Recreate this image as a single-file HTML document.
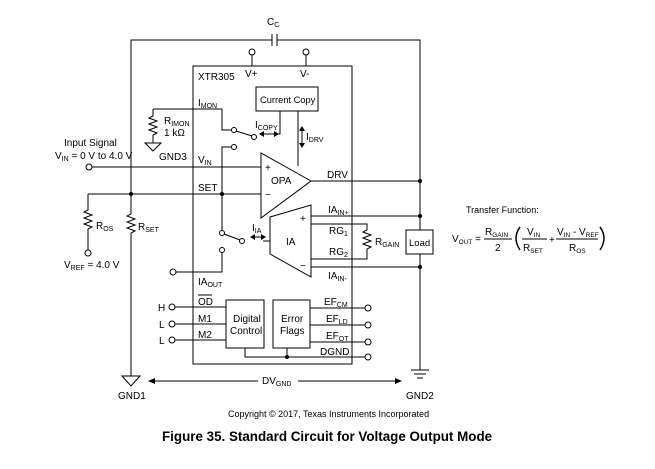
<!DOCTYPE html>
<html><head><meta charset="utf-8"><style>
body{margin:0;background:#fff}
svg{display:block}
text{font-family:"Liberation Sans",sans-serif;font-size:10px;fill:#000}
.s{font-size:7px}
.e{font-size:9px}
.e .s{font-size:6.5px}
</style></head><body>
<svg width="655" height="469" viewBox="0 0 655 469" xmlns="http://www.w3.org/2000/svg">
<g stroke="#000" stroke-width="1" fill="none">
<rect x="193" y="66" width="159" height="298"/>
<polyline points="131,194 131,40 272,40"/>
<line x1="272" y1="34" x2="272" y2="46"/>
<line x1="277" y1="34" x2="277" y2="46"/>
<polyline points="277,40 420,40 420,230"/>
<line x1="420" y1="254" x2="420" y2="370"/>
<line x1="252" y1="55" x2="252" y2="66"/><circle cx="252" cy="52" r="3" fill="#fff"/>
<line x1="306" y1="55" x2="306" y2="66"/><circle cx="306" cy="52" r="3" fill="#fff"/>
<rect x="256" y="87" width="62" height="24"/>
<line x1="298" y1="111" x2="298" y2="166"/>
<polyline points="280,111 280,134 262,134"/>
<polyline points="153,109 222,109 222,130 231,130"/>
<polyline points="153,109 153,116 149,118 157,121 149,124 157,127 149,130 157,133 153,135 153,143"/>
<polygon points="145,143 161,143 153,151"/>
<circle cx="234" cy="130" r="2.5" fill="#fff"/>
<line x1="236" y1="131" x2="252" y2="136"/>
<circle cx="254" cy="137" r="2.5" fill="#fff"/>
<circle cx="234" cy="147" r="2.5" fill="#fff"/>
<polyline points="231,147 222,147 222,230"/>
<line x1="92" y1="167" x2="261" y2="167"/>
<circle cx="89" cy="167" r="3" fill="#fff"/>
<polygon points="261,153 261,218 311,181" fill="#fff"/>
<line x1="311" y1="181" x2="420" y2="181"/>
<line x1="88" y1="194" x2="261" y2="194"/>
<polyline points="88,194 88,210 84,212 92,215 84,218 92,221 84,224 92,227 88,229 88,250"/>
<circle cx="88" cy="253" r="3" fill="#fff"/>
<polyline points="131,194 131,214 127,216 135,219 127,222 135,225 127,228 135,231 131,233 131,376"/>
<polygon points="122,376 140,376 131,386"/>
<circle cx="222" cy="233" r="2.5" fill="#fff"/>
<line x1="224" y1="234" x2="240" y2="240"/>
<circle cx="242" cy="241" r="2.5" fill="#fff"/>
<circle cx="222" cy="250" r="2.5" fill="#fff"/>
<polyline points="222,253 222,272 176,272"/>
<circle cx="173" cy="272" r="3" fill="#fff"/>
<line x1="263" y1="241" x2="270" y2="241"/>
<polygon points="270,217 311,205 311,277 270,254" fill="#fff"/>
<line x1="311" y1="216" x2="420" y2="216"/>
<line x1="311" y1="267" x2="420" y2="267"/>
<polyline points="311,224 367,224 367,230 363,232 371,235 363,238 371,241 363,244 371,247 367,249 367,259 311,259"/>
<rect x="406" y="230" width="27" height="24"/>
<rect x="226" y="300" width="38" height="48"/>
<rect x="273" y="300" width="37" height="48"/>
<line x1="175" y1="307" x2="226" y2="307"/><circle cx="172" cy="307" r="3" fill="#fff"/>
<line x1="175" y1="324" x2="226" y2="324"/><circle cx="172" cy="324" r="3" fill="#fff"/>
<line x1="175" y1="340" x2="226" y2="340"/><circle cx="172" cy="340" r="3" fill="#fff"/>
<line x1="310" y1="308" x2="365" y2="308"/><circle cx="368" cy="308" r="3" fill="#fff"/>
<line x1="310" y1="325" x2="365" y2="325"/><circle cx="368" cy="325" r="3" fill="#fff"/>
<line x1="310" y1="342" x2="365" y2="342"/><circle cx="368" cy="342" r="3" fill="#fff"/>
<polyline points="245,348 245,357 365,357"/><circle cx="368" cy="357" r="3" fill="#fff"/>
<line x1="287" y1="348" x2="287" y2="357"/>
<line x1="411" y1="370" x2="429" y2="370"/>
<line x1="414" y1="374" x2="426" y2="374"/>
<line x1="417" y1="378" x2="423" y2="378"/>
<line x1="152" y1="381" x2="258" y2="381"/>
<line x1="298" y1="381" x2="398" y2="381"/>
<line x1="302" y1="128" x2="302" y2="146"/>
<line x1="252" y1="237" x2="264" y2="237"/>
<path d="M520,227 Q512,238 520,250" stroke-width="1.5"/>
<path d="M600,227 Q608,238 600,250" stroke-width="1.5"/>
<line x1="484" y1="239" x2="512" y2="239"/>
<line x1="522" y1="239" x2="547" y2="239"/>
<line x1="556" y1="239" x2="598" y2="239"/>
</g>
<g fill="#000">
<circle cx="131" cy="194" r="2"/><circle cx="222" cy="194" r="2"/>
<circle cx="420" cy="181" r="2"/><circle cx="420" cy="216" r="2"/><circle cx="420" cy="267" r="2"/>
<circle cx="287" cy="357" r="2"/>
<polygon points="148,381 155,378 155,384"/><polygon points="402,381 395,378 395,384"/>
<polygon points="259,134 264,131 264,137"/><polygon points="279,134 274,131 274,137"/>
<polygon points="302,126 299,131 305,131"/><polygon points="302,148 299,143 305,143"/>
<polygon points="250,237 255,234 255,240"/><polygon points="266,237 261,234 261,240"/>
</g>
<text x="267" y="25">C<tspan class="s" dy="2">C</tspan></text>
<text x="198" y="80">XTR305</text>
<text x="245" y="77">V+</text>
<text x="300" y="77">V-</text>
<text x="260" y="103" style="font-size:9.3px">Current Copy</text>
<text x="198" y="106">I<tspan class="s" dy="2">MON</tspan></text>
<text x="164" y="124">R<tspan class="s" dy="2">IMON</tspan></text>
<text x="164" y="136">1 kΩ</text>
<text x="159" y="160">GND3</text>
<text x="255" y="128">I<tspan class="s" dy="2">COPY</tspan></text>
<text x="306" y="140">I<tspan class="s" dy="2">DRV</tspan></text>
<text x="64" y="146">Input Signal</text>
<text x="55" y="159">V<tspan class="s" dy="2">IN</tspan><tspan dy="-2"> = 0 V to 4.0 V</tspan></text>
<text x="198" y="163">V<tspan class="s" dy="2">IN</tspan></text>
<text x="198" y="191">SET</text>
<text x="265" y="171">+</text>
<text x="265" y="198">−</text>
<text x="271" y="184">OPA</text>
<text x="327" y="178">DRV</text>
<text x="96" y="229">R<tspan class="s" dy="2">OS</tspan></text>
<text x="138" y="230">R<tspan class="s" dy="2">SET</tspan></text>
<text x="64" y="268">V<tspan class="s" dy="2">REF</tspan><tspan dy="-2"> = 4.0 V</tspan></text>
<text x="252" y="231">I<tspan class="s" dy="2">IA</tspan></text>
<text x="286" y="245">IA</text>
<text x="300" y="222">+</text>
<text x="300" y="269">−</text>
<text x="328" y="213">IA<tspan class="s" dy="2">IN+</tspan></text>
<text x="329" y="234">RG<tspan class="s" dy="2">1</tspan></text>
<text x="329" y="255">RG<tspan class="s" dy="2">2</tspan></text>
<text x="328" y="279">IA<tspan class="s" dy="2">IN-</tspan></text>
<text x="375" y="245">R<tspan class="s" dy="2">GAIN</tspan></text>
<text x="409" y="246" style="font-size:9.5px">Load</text>
<text x="198" y="285">IA<tspan class="s" dy="2">OUT</tspan></text>
<text x="198" y="305">OD</text><line x1="198" y1="295" x2="212" y2="295" stroke="#000"/>
<text x="198" y="322">M1</text>
<text x="198" y="338">M2</text>
<text x="158" y="311">H</text>
<text x="159" y="328">L</text>
<text x="159" y="344">L</text>
<text x="233" y="322">Digital</text>
<text x="230" y="334">Control</text>
<text x="281" y="322">Error</text>
<text x="280" y="334">Flags</text>
<text x="324" y="305">EF<tspan class="s" dy="2">CM</tspan></text>
<text x="326" y="322">EF<tspan class="s" dy="2">LD</tspan></text>
<text x="326" y="339">EF<tspan class="s" dy="2">OT</tspan></text>
<text x="320" y="355">DGND</text>
<text x="262" y="384">DV<tspan class="s" dy="2">GND</tspan></text>
<text x="118" y="399">GND1</text>
<text x="406" y="399">GND2</text>
<text x="466" y="213" class="e">Transfer Function:</text>
<g class="e">
<text x="452" y="242">V<tspan class="s" dy="2">OUT</tspan><tspan dy="-2"> =</tspan></text>
<text x="485" y="235">R<tspan class="s" dy="2">GAIN</tspan></text>
<text x="495" y="251">2</text>
<text x="527" y="235">V<tspan class="s" dy="2">IN</tspan></text>
<text x="523" y="251">R<tspan class="s" dy="2">SET</tspan></text>
<text x="549" y="243">+</text>
<text x="557" y="235">V<tspan class="s" dy="2">IN</tspan><tspan dy="-2"> - V</tspan><tspan class="s" dy="2">REF</tspan></text>
<text x="569" y="251">R<tspan class="s" dy="2">OS</tspan></text>
</g>
<text x="228" y="417" style="font-size:9px">Copyright © 2017, Texas Instruments Incorporated</text>
<text x="162" y="441" style="font-size:13.4px;font-weight:bold">Figure 35.  Standard Circuit for Voltage Output Mode</text>
</svg>
</body></html>
